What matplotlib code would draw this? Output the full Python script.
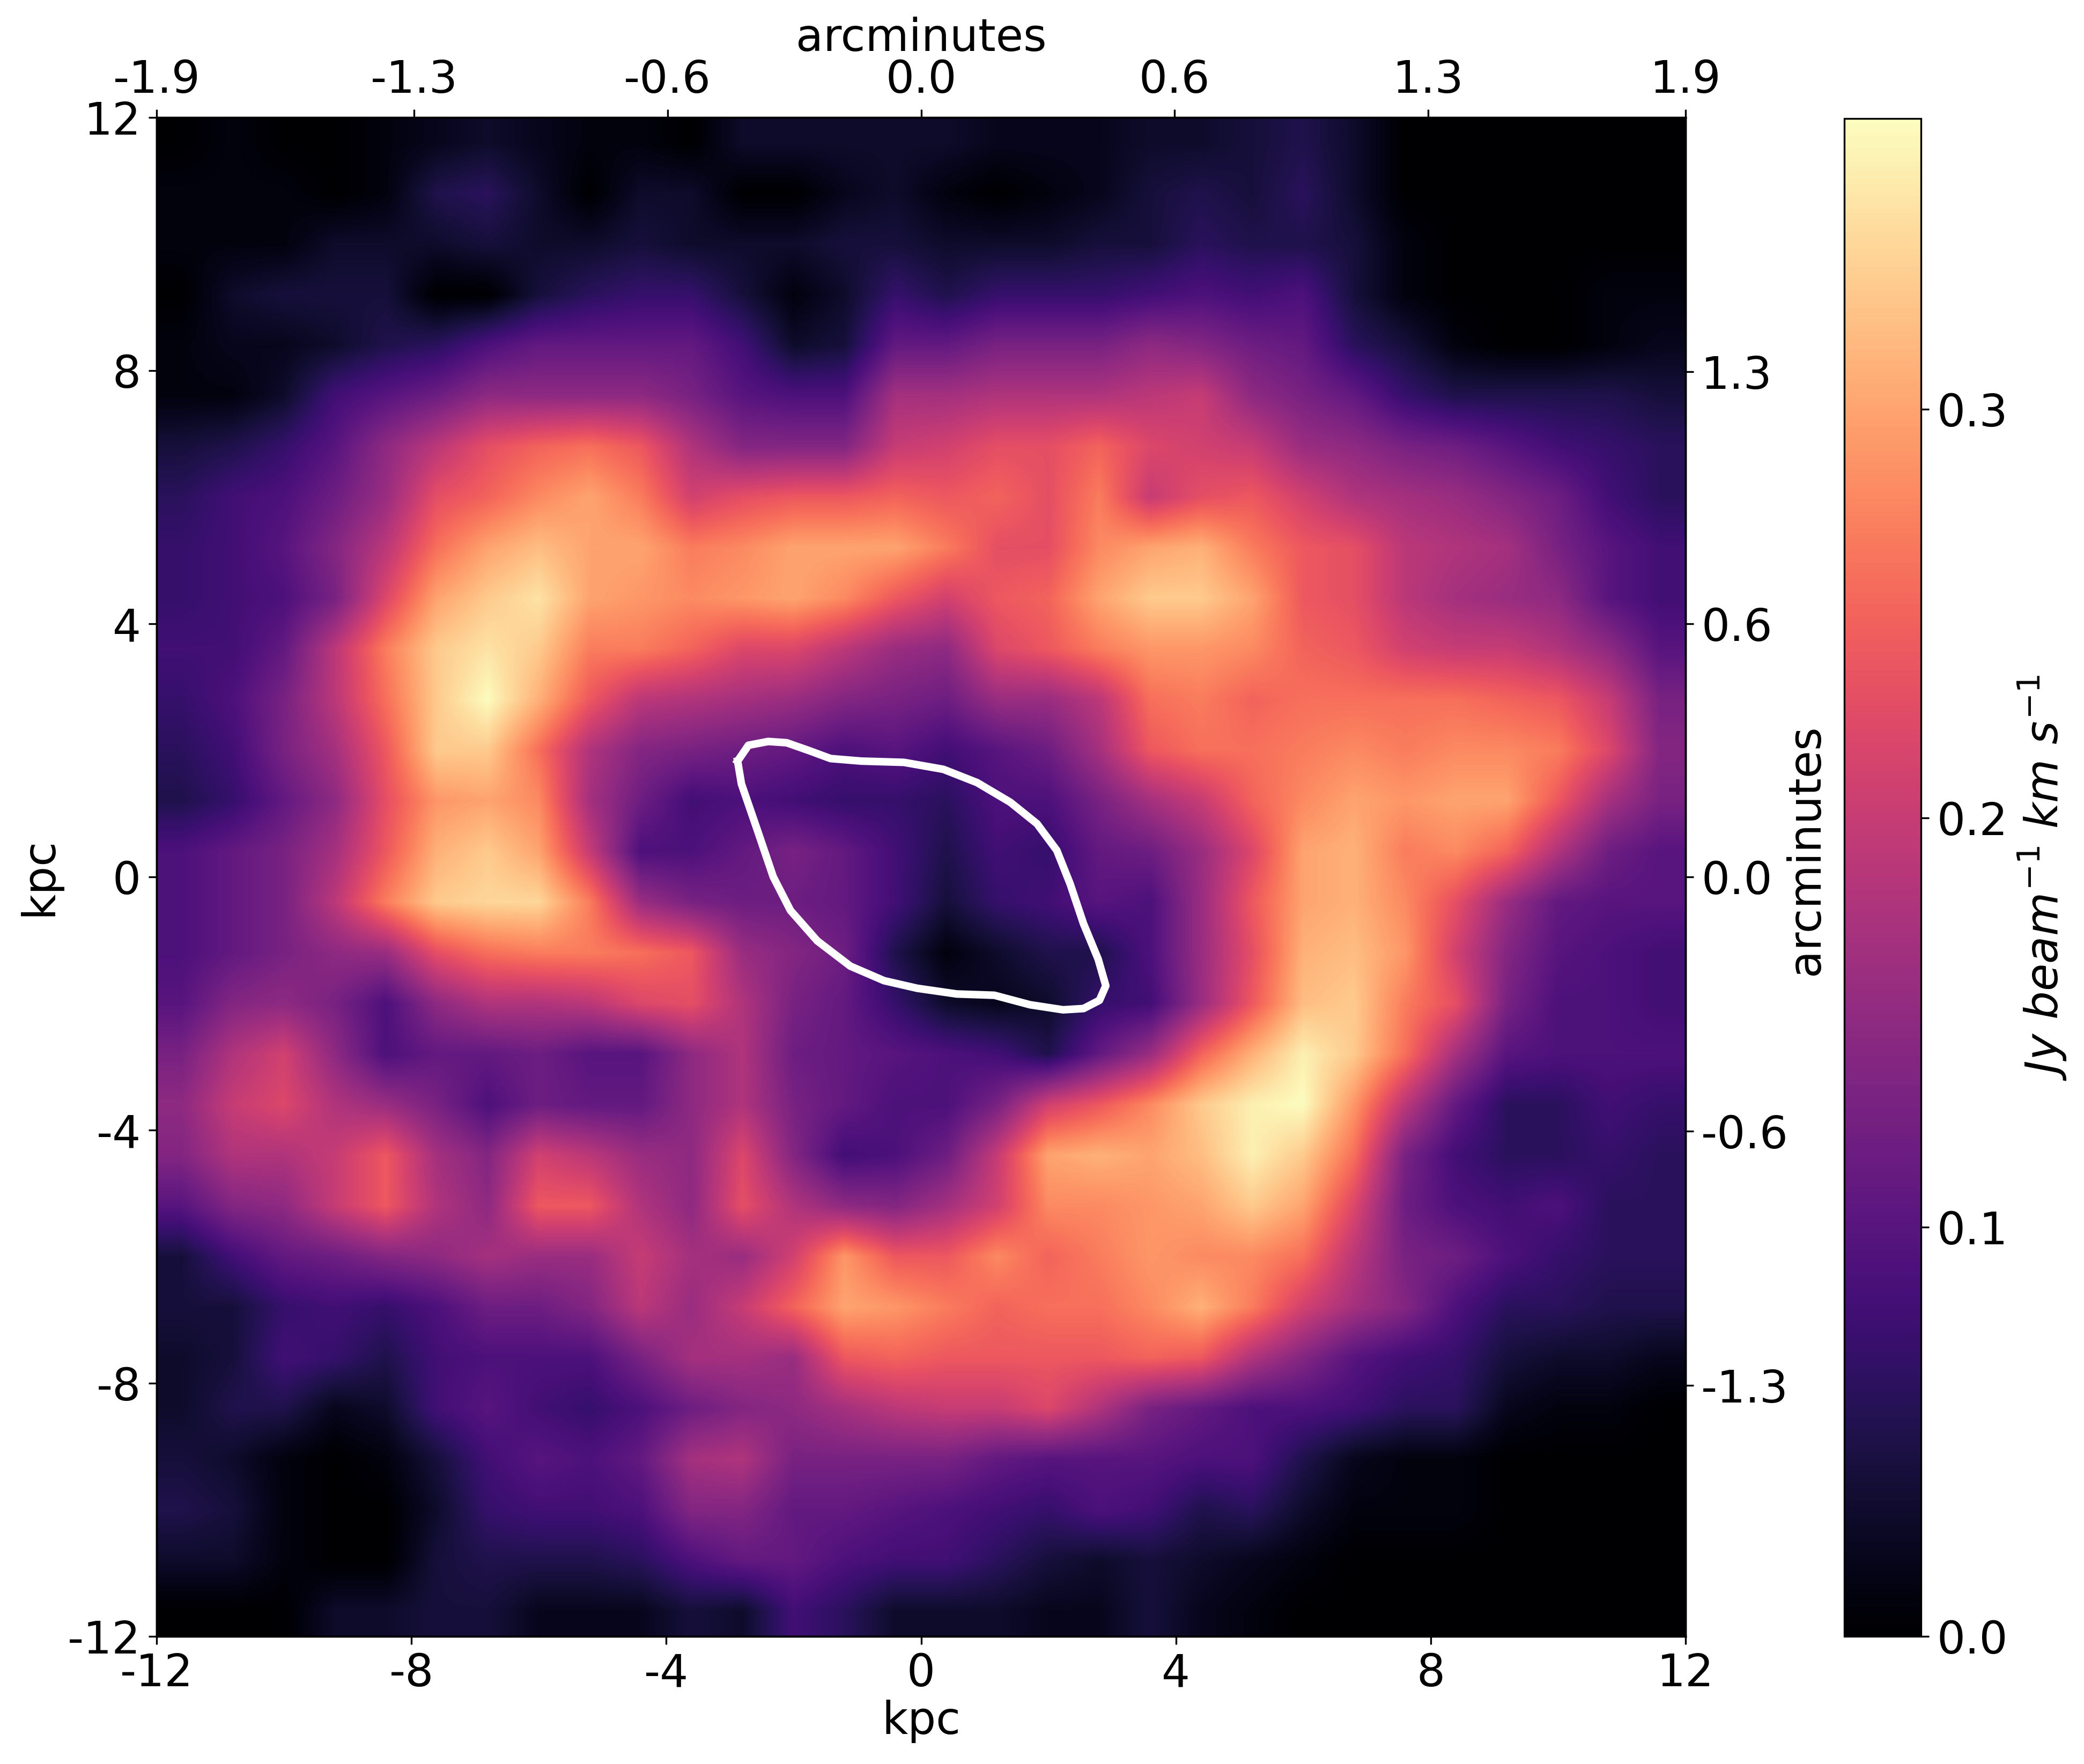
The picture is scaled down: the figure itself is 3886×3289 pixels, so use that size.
import numpy as np
import matplotlib
matplotlib.use("Agg")
import matplotlib.pyplot as plt

W, H, DPI = 3886, 3289, 300
# intensity in 0.01 Jy/beam km/s, rows from y=+11.6 to y=-11.6 kpc
rows = """
0 1 0 0 1 2 3 2 1 1 0 3 3 3 3 3 2 2 2 3 3 4 5 3 0 0 0 0 0 0
1 1 1 0 1 5 6 3 0 3 3 0 0 2 3 1 0 1 2 4 5 4 6 3 0 0 0 0 0 0
1 1 1 3 3 3 4 3 3 4 3 3 3 4 4 3 3 3 4 4 6 5 5 4 1 0 0 0 0 0
0 3 4 4 4 0 0 4 6 7 7 4 1 3 7 5 7 7 7 8 9 8 9 4 1 0 0 0 1 1
1 2 2 3 5 6 9 11 11 11 11 8 3 4 11 11 13 13 13 15 14 12 11 6 4 1 0 0 1 2
1 1 3 8 10 12 15 15 15 15 13 10 9 9 17 17 18 18 18 19 20 15 13 11 7 5 5 5 5 4
4 5 7 10 15 19 23 25 26 24 18 14 14 14 20 21 23 23 25 22 21 20 16 15 13 12 10 8 7 6
6 8 9 12 16 23 25 28 30 27 21 23 24 24 25 24 25 23 27 20 23 24 21 18 17 16 14 12 8 6
7 8 10 14 19 26 30 32 30 30 27 28 30 30 30 27 23 23 28 30 31 27 24 23 19 18 17 13 10 8
7 8 9 13 22 30 33 35 30 29 28 29 30 28 24 21 24 25 30 33 33 30 24 23 19 17 16 15 10 8
8 8 11 19 27 33 35 33 27 27 25 22 22 19 16 15 22 24 27 29 29 28 25 24 21 20 20 18 15 10
7 9 13 19 26 33 37 31 24 19 18 17 16 14 13 12 16 16 19 26 27 25 26 26 26 26 25 24 20 13
6 8 13 17 24 33 33 26 18 14 13 12 11 9 10 8 10 12 17 24 26 26 27 28 27 28 28 27 22 14
5 7 11 15 23 29 30 28 17 12 8 9 8 7 7 6 9 9 13 17 20 25 28 30 29 30 30 24 17 13
9 11 13 17 24 31 33 30 20 9 9 11 13 11 8 5 8 7 11 12 16 22 30 31 27 28 25 18 12 10
9 11 13 19 27 33 34 34 27 16 13 12 12 11 8 4 7 8 10 9 16 24 30 31 28 23 16 11 10 10
9 11 13 15 16 23 26 27 27 26 24 16 14 12 5 1 3 5 5 9 16 23 31 32 29 21 14 10 9 8
10 14 15 13 9 15 18 18 19 22 23 18 13 11 7 3 2 3 7 8 16 24 32 33 27 23 13 9 9 8
13 18 21 15 9 11 11 12 10 10 15 18 12 11 10 9 8 5 11 16 25 31 36 33 26 17 10 9 9 9
15 20 22 18 16 13 9 12 11 11 15 18 13 11 9 9 13 21 24 28 33 36 37 29 19 11 6 6 8 7
14 18 18 20 24 17 14 21 19 16 15 22 14 8 9 12 20 30 31 30 32 36 33 26 13 8 6 6 7 6
10 14 15 20 24 18 15 24 24 18 15 23 18 15 14 17 21 28 28 29 30 33 30 22 12 9 8 9 6 6
4 8 11 12 14 15 17 16 16 20 17 16 21 29 24 24 28 25 27 29 28 28 26 19 13 12 9 7 6 6
4 4 7 8 7 9 12 12 14 19 16 20 25 30 29 27 25 26 26 28 31 27 21 17 14 9 6 6 5 5
3 4 8 7 5 8 9 9 9 13 17 17 16 24 25 24 24 24 24 25 24 18 14 10 8 7 4 3 3 2
3 5 5 2 3 8 10 8 7 9 12 14 15 17 19 20 20 22 18 13 11 9 9 8 6 6 2 1 1 0
4 3 1 0 1 4 8 10 9 11 17 18 13 13 13 13 11 10 10 10 9 9 5 2 1 1 0 0 0 0
5 4 1 0 0 3 7 8 8 9 14 14 11 11 10 9 8 7 9 8 5 6 3 1 1 1 0 0 0 0
3 3 1 0 0 4 5 5 5 6 9 11 11 9 8 8 6 4 3 4 3 2 1 0 0 0 0 0 0 0
0 0 0 3 3 4 4 2 2 2 4 3 8 6 3 3 3 2 2 4 2 1 0 0 0 0 0 0 0 0
"""
intensity = np.array([[float(v) for v in r.split()] for r in rows.strip().splitlines()]) * 0.01

contour_x = [-2.88, -2.71, -2.40, -2.11, -1.77, -1.42, -0.94, -0.27, 0.35, 0.88, 1.40, 1.82, 2.13, 2.34, 2.55, 2.78,
             2.90, 2.80, 2.55, 2.23, 1.71, 1.15, 0.56, -0.06, -0.58, -1.11, -1.63, -2.05, -2.32, -2.57, -2.82, -2.88]
contour_y = [1.83, 2.08, 2.14, 2.12, 2.00, 1.87, 1.83, 1.81, 1.70, 1.49, 1.18, 0.84, 0.42, -0.11, -0.74, -1.30,
             -1.72, -1.95, -2.08, -2.10, -2.02, -1.87, -1.85, -1.76, -1.64, -1.41, -1.01, -0.53, 0.0, 0.74, 1.47, 1.83]

kpc_ticks = [-12, -8, -4, 0, 4, 8, 12]
kpc_labels = ["-12", "-8", "-4", "0", "4", "8", "12"]
arcmin_top_ticks = [-12, -7.96, -3.98, 0, 3.98, 7.96, 12]
arcmin_top = ["-1.9", "-1.3", "-0.6", "0.0", "0.6", "1.3", "1.9"]
arcmin_right_ticks = [-8.03, -4.02, 0, 4.0, 7.98]
arcmin_right = ["-1.3", "-0.6", "0.0", "0.6", "1.3"]
cbar_ticks = [0.0, 0.1, 0.2, 0.3]
vmax = 0.371

plt.rcParams["font.size"] = 20
fig = plt.figure(figsize=(W / DPI, H / DPI), dpi=DPI)
def rect(l, t, r, b):
    return [l / W, 1 - b / H, (r - l) / W, (b - t) / H]

ax = fig.add_axes(rect(292, 219, 3143, 3051))
im = ax.imshow(intensity, cmap="magma", vmin=0, vmax=vmax, extent=[-12, 12, -12, 12],
               origin="upper", aspect="auto", interpolation="bilinear")
ax.plot(contour_x, contour_y, color="white", lw=3.4)
ax.set_xlim(-12, 12)
ax.set_ylim(-12, 12)
ax.set_xticks(kpc_ticks, kpc_labels)
ax.set_yticks(kpc_ticks, kpc_labels)
ax.set_xlabel("kpc", labelpad=2)
ax.set_ylabel("kpc", labelpad=3)

top = ax.twiny()
top.set_xlim(-12, 12)
top.set_xticks(arcmin_top_ticks, arcmin_top)
top.set_xlabel("arcminutes", labelpad=3.2)

right = ax.twinx()
right.set_ylim(-12, 12)
right.set_yticks(arcmin_right_ticks, arcmin_right)
right.set_ylabel("arcminutes", labelpad=-2, y=0.518)

cax = fig.add_axes(rect(3439, 221, 3582, 3051))
cb = fig.colorbar(im, cax=cax)
cb.set_ticks(cbar_ticks)
cb.set_label(r"$Jy\ beam^{-1}\ km\ s^{-1}$", labelpad=4)

fig.savefig("out.png", dpi=DPI)
